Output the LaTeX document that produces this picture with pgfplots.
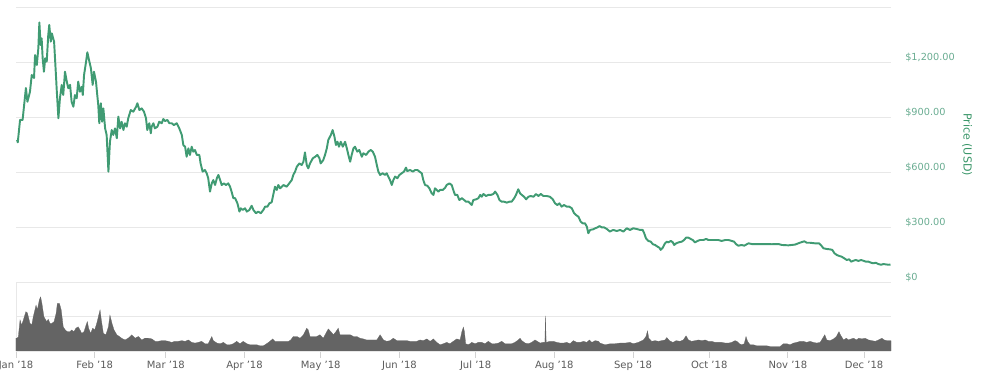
\documentclass[border=0pt]{standalone}
\usepackage{pgfplots}
\pgfplotsset{compat=1.18}
\usepackage{pgfplotstable}
\usepackage{fontspec}
\setmainfont{DejaVu Sans}
\definecolor{pricegreen}{RGB}{64,155,115}
\definecolor{ticklab}{RGB}{105,172,145}
\definecolor{labgreen}{RGB}{58,150,105}
\definecolor{volgray}{RGB}{100,100,100}
\definecolor{gridc}{RGB}{232,232,232}
\definecolor{xlab}{RGB}{90,90,90}

\pgfplotstableread{
day price
0.4 775
0.7 762
1.6 884
2.6 884
3.2 965
3.9 1058
4.5 983
5.5 1038
6.2 1129
7.1 1113
7.5 1238
8.2 1184
8.8 1275
9.2 1416
9.7 1293
10.1 1329
10.5 1220
11.0 1147
11.5 1220
12.1 1202
12.7 1347
13.1 1402
13.7 1311
14.1 1356
15.0 1311
15.8 1111
16.0 1057
16.7 893
17.3 1002
18.0 1075
18.6 1020
19.3 1147
20.0 1093
20.6 1057
21.3 1075
21.9 983
22.6 956
23.2 1020
23.9 1002
24.5 1093
25.2 1038
25.9 1065
26.3 1020
26.8 1129
27.6 1202
28.1 1253
28.9 1202
29.5 1166
30.2 1075
30.7 1147
31.5 1093
32.0 1020
32.4 965
32.8 866
33.4 975
33.9 874
34.4 947
35.1 838
35.7 802
36.4 602
37.0 765
37.7 829
38.3 802
39.0 838
39.7 784
40.3 902
41.0 838
41.6 874
42.3 829
42.9 866
43.6 847
44.2 893
45.2 938
46.2 929
47.3 956
47.8 975
48.6 938
49.5 947
50.4 929
51.2 893
51.7 829
52.5 866
53.1 811
53.4 847
54.1 866
54.7 838
55.7 847
56.4 874
57.4 866
58.0 889
58.7 878
59.6 884
60.4 866
61.3 866
62.2 856
63.3 866
64.3 838
65.3 802
65.9 747
66.6 738
67.2 683
67.9 729
68.5 693
69.2 738
69.8 711
70.5 720
71.2 693
72.2 693
72.7 647
73.5 602
74.4 611
75.1 593
75.7 566
76.4 493
77.1 538
77.7 556
78.4 529
79.1 566
79.7 584
80.4 556
81.0 529
81.9 538
82.7 529
83.6 538
84.3 520
84.9 493
85.6 457
86.3 457
87.2 429
88.0 384
88.5 402
89.3 393
90.2 402
90.9 384
91.9 393
92.8 416
93.5 393
94.5 375
95.4 384
96.4 375
97.4 393
98.1 411
99.0 411
99.8 429
100.7 435
101.3 475
102.0 520
102.7 502
103.3 529
104.0 511
104.7 520
105.3 529
106.6 520
107.6 538
108.6 556
109.2 584
109.9 602
110.6 629
111.6 647
112.5 638
113.2 656
113.8 707
114.5 638
115.1 620
115.8 647
116.9 675
117.8 683
118.7 693
119.5 675
120.0 647
121.0 665
121.7 693
122.4 729
123.0 775
124.0 802
124.7 829
125.4 793
126.0 747
126.6 765
127.2 738
127.9 765
128.7 738
129.6 765
130.3 729
130.9 693
131.6 656
132.2 693
132.9 729
133.5 738
134.4 711
135.2 720
136.2 683
136.8 702
137.9 693
138.8 711
139.7 720
140.5 711
141.4 683
142.1 638
142.7 602
143.4 584
144.4 593
145.3 584
146.0 593
146.6 575
147.3 556
148.0 529
148.6 556
149.3 575
150.2 566
151.0 584
151.9 593
152.8 602
153.6 624
154.1 605
155.2 611
156.3 602
157.2 611
158.1 611
158.9 602
159.8 593
160.4 556
161.1 529
162.0 525
162.8 511
163.7 484
164.4 475
165.0 511
165.7 502
166.3 493
167.0 502
168.1 502
169.0 514
169.6 529
170.7 538
171.6 529
172.2 502
172.9 475
173.8 475
174.6 447
175.6 457
176.5 447
177.2 438
178.2 438
178.8 429
179.5 420
180.1 447
181.2 451
182.1 457
182.8 475
183.4 465
184.1 480
185.1 469
186.0 475
187.0 475
188.0 480
188.7 493
189.6 475
190.4 447
191.3 438
192.2 438
193.3 433
194.3 438
195.2 438
196.2 457
196.9 475
197.8 506
198.5 484
199.2 475
200.1 465
200.9 451
201.8 465
202.7 469
203.8 465
204.8 480
205.7 469
206.7 480
207.7 469
209.0 469
210.3 465
211.4 451
212.3 429
213.2 420
214.0 429
214.9 411
215.8 420
216.9 411
217.9 411
218.9 402
219.8 375
220.6 365
221.5 356
222.4 329
223.2 320
224.1 320
224.8 302
225.4 266
226.1 284
227.2 287
228.1 293
229.0 298
229.8 305
230.7 298
231.6 298
232.7 289
233.9 275
235.2 284
236.6 278
237.9 284
239.2 275
240.5 293
241.8 284
243.1 293
244.5 289
245.8 284
246.8 284
247.4 266
248.1 238
249.0 224
250.0 220
250.8 206
251.7 202
252.6 193
253.4 187
253.9 175
254.7 187
255.6 211
256.3 220
256.9 216
257.9 224
258.7 216
259.2 202
260.0 211
260.9 216
262.2 220
263.1 229
263.9 242
264.8 242
265.7 235
266.5 229
267.4 216
268.4 224
269.4 229
270.7 229
271.8 235
272.7 229
274.0 229
275.3 229
276.6 229
277.9 224
279.3 229
280.6 229
281.9 224
282.8 220
283.6 206
284.5 198
285.8 202
286.8 198
287.8 206
288.5 211
289.8 207
292.4 207
295.0 207
297.7 206
300.3 207
301.6 202
304.2 200
306.8 204
308.1 211
309.5 218
310.5 222
311.4 214
312.7 214
314.7 211
316.3 211
317.3 196
318.0 184
319.3 180
320.6 178
321.5 175
322.3 157
323.3 147
324.2 142
325.2 138
326.2 129
327.2 120
328.1 124
328.9 111
329.8 116
330.7 120
331.8 115
332.8 120
333.7 116
334.7 111
335.7 111
336.8 105
337.6 102
338.6 105
339.6 98
340.7 94
341.6 98
342.6 96
343.6 94
344.4 95
}\pricetable

\pgfplotstableread{
day vol
0.0 0.37
0.3 0.37
0.9 0.40
1.6 0.90
2.2 0.75
2.9 0.90
3.9 1.14
4.5 1.10
5.5 0.80
6.2 0.75
6.8 0.99
7.9 1.33
8.4 1.19
9.2 1.48
9.7 1.57
10.2 1.38
11.0 0.99
12.1 0.85
12.7 0.92
13.4 0.80
14.1 0.80
15.0 0.85
15.8 1.09
16.3 1.38
17.1 1.38
17.8 1.19
18.6 0.70
19.4 0.61
20.2 0.56
21.3 0.56
21.9 0.61
22.8 0.56
23.6 0.66
24.5 0.70
25.2 0.61
25.9 0.51
26.8 0.56
27.6 0.75
28.1 0.85
28.6 0.66
29.4 0.51
30.2 0.66
31.0 0.61
31.8 0.80
32.6 1.04
33.1 1.19
33.6 0.90
34.4 0.51
35.4 0.47
36.4 0.70
37.0 1.04
37.8 0.80
38.6 0.61
39.7 0.47
40.7 0.42
41.6 0.37
42.9 0.32
44.2 0.37
45.6 0.47
46.9 0.37
48.2 0.42
49.5 0.32
50.8 0.37
52.1 0.37
53.5 0.35
54.8 0.28
56.0 0.28
57.4 0.30
58.7 0.30
60.0 0.28
61.3 0.25
62.6 0.28
63.9 0.28
65.3 0.30
66.6 0.28
67.9 0.32
69.2 0.25
70.5 0.23
71.8 0.25
73.1 0.28
74.4 0.21
75.7 0.21
77.1 0.42
77.7 0.30
79.1 0.23
80.4 0.21
81.7 0.25
83.0 0.18
84.3 0.18
85.6 0.21
86.9 0.28
88.2 0.21
89.5 0.28
90.9 0.21
92.2 0.18
93.5 0.18
94.8 0.18
96.1 0.15
97.4 0.15
98.7 0.21
100.0 0.28
101.1 0.35
102.0 0.28
103.3 0.28
105.3 0.28
107.3 0.28
108.2 0.32
109.2 0.42
110.6 0.42
111.9 0.37
113.2 0.47
114.5 0.66
115.1 0.61
115.8 0.42
117.1 0.42
118.4 0.42
119.7 0.47
121.0 0.37
122.4 0.56
123.0 0.64
124.0 0.56
125.0 0.47
126.0 0.56
126.9 0.66
127.6 0.47
128.9 0.47
130.3 0.47
131.6 0.47
132.9 0.42
134.2 0.42
135.5 0.37
136.8 0.35
138.1 0.32
139.4 0.32
140.7 0.32
142.1 0.32
143.4 0.47
144.7 0.32
146.0 0.28
147.3 0.30
148.6 0.37
150.0 0.30
151.3 0.30
152.6 0.30
153.9 0.30
155.2 0.28
156.5 0.28
157.8 0.28
159.1 0.32
160.4 0.30
161.8 0.35
163.1 0.28
164.4 0.35
165.7 0.25
167.0 0.18
168.3 0.21
169.6 0.25
170.9 0.21
172.2 0.28
173.6 0.35
174.9 0.32
175.6 0.56
176.2 0.69
176.6 0.56
177.1 0.21
178.2 0.18
179.5 0.25
180.8 0.21
182.1 0.25
183.4 0.25
184.7 0.21
186.0 0.28
187.4 0.21
188.7 0.21
190.0 0.23
191.3 0.28
192.6 0.21
193.9 0.21
195.2 0.21
196.5 0.25
197.8 0.32
198.5 0.37
199.2 0.30
200.5 0.23
201.8 0.21
203.1 0.25
204.4 0.32
205.3 0.28
206.4 0.23
207.5 0.25
208.3 0.25
208.5 1.02
208.8 0.25
210.3 0.28
211.6 0.28
213.0 0.25
214.3 0.23
215.6 0.23
216.9 0.25
218.2 0.21
219.5 0.30
220.9 0.25
222.2 0.25
223.5 0.28
224.8 0.25
225.8 0.32
226.8 0.25
228.1 0.30
229.4 0.28
230.0 0.23
232.0 0.18
234.0 0.21
235.9 0.21
237.9 0.23
239.9 0.23
241.8 0.25
243.1 0.21
245.1 0.25
247.1 0.32
248.1 0.42
248.7 0.58
249.2 0.37
250.4 0.28
251.7 0.30
253.0 0.28
254.3 0.30
255.6 0.32
256.3 0.39
257.3 0.30
258.7 0.25
260.0 0.30
261.5 0.28
262.8 0.32
263.9 0.44
264.8 0.32
266.1 0.28
267.4 0.30
268.8 0.32
270.1 0.30
271.4 0.32
272.7 0.28
274.0 0.28
275.3 0.25
276.6 0.25
277.9 0.25
279.3 0.23
280.6 0.23
281.9 0.25
283.2 0.30
283.9 0.28
284.9 0.21
285.8 0.18
286.8 0.21
287.5 0.42
288.1 0.28
289.1 0.18
290.4 0.18
291.7 0.15
293.1 0.15
294.4 0.15
295.7 0.15
297.0 0.13
298.3 0.13
299.6 0.13
300.9 0.13
302.2 0.21
303.6 0.21
304.9 0.18
306.2 0.23
307.5 0.25
308.8 0.28
310.1 0.28
311.4 0.25
312.7 0.28
314.0 0.25
315.4 0.23
316.7 0.25
317.7 0.37
318.5 0.47
319.3 0.32
320.6 0.30
322.0 0.35
323.1 0.42
324.1 0.56
324.9 0.44
325.9 0.32
327.0 0.37
327.9 0.32
328.9 0.35
329.9 0.37
330.9 0.32
331.9 0.37
333.1 0.35
334.4 0.37
335.7 0.32
337.1 0.30
338.4 0.28
339.7 0.32
341.0 0.37
341.9 0.32
343.0 0.30
344.6 0.30
}\voltable

\begin{document}
\begin{tikzpicture}
% price panel
\begin{axis}[
  at={(12pt,-5.25pt)}, anchor=north west,
  scale only axis, width=656.25pt, height=206.25pt,
  xmin=0, xmax=344.6, ymin=0, ymax=1500,
  axis line style={draw=none},
  xtick=\empty,
  ytick={0,300,600,900,1200,1500},
  yticklabels={\$0,\$300.00,\$600.00,\$900.00,{\$1,200.00},},
  ymajorgrids, grid style={draw=gridc, line width=0.7pt},
  ytick pos=right, yticklabel pos=right,
  major tick length=0pt,
  yticklabel style={anchor=west, inner sep=0pt, xshift=10.5pt, yshift=3.6pt,
    text=ticklab, font=\fontsize{7.3}{8}\selectfont},
  clip=false,
]
\addplot[color=pricegreen, line width=1.45pt, line join=round] table[x=day,y=price] {\pricetable};
\node[xshift=57pt, rotate=-90, anchor=center, text=labgreen, font=\fontsize{8.3}{9}\selectfont]
  at (rel axis cs:1,0.5) {Price (USD)};
\end{axis}
% volume panel
\begin{axis}[
  at={(12pt,-211.5pt)}, anchor=north west,
  scale only axis, width=656.25pt, height=51.75pt,
  xmin=0, xmax=344.6, ymin=0, ymax=2,
  axis lines*=left,
  axis line style={draw=gridc, line width=0.7pt},
  ytick={0,1,2},
  yticklabels={\$0,\$10B,},
  ymajorgrids, grid style={draw=gridc, line width=0.7pt},
  ytick style={draw=none},
  yticklabel style={anchor=east, inner sep=0pt, xshift=-9.8pt, yshift=4pt,
    text=red!75, font=\fontsize{7.3}{8}\selectfont},
  xtick={0,31,59,90,120,151,181,212,243,273,304,334},
  xticklabels={Jan '18,Feb '18,Mar '18,Apr '18,May '18,Jun '18,Jul '18,Aug '18,Sep '18,Oct '18,Nov '18,Dec '18},
  tick align=outside,
  major tick length=5pt,
  xtick style={draw=gray!35, line width=0.7pt},
  xticklabel style={inner sep=0pt, yshift=-2.5pt, text=xlab, font=\fontsize{7.5}{8}\selectfont},
]
\addplot[fill=volgray, draw=volgray, line width=0.2pt] table[x=day,y=vol] {\voltable} \closedcycle;
\end{axis}
\pgfresetboundingbox
\useasboundingbox (0pt,0pt) rectangle (750pt,-285.75pt);
\end{tikzpicture}
\end{document}
